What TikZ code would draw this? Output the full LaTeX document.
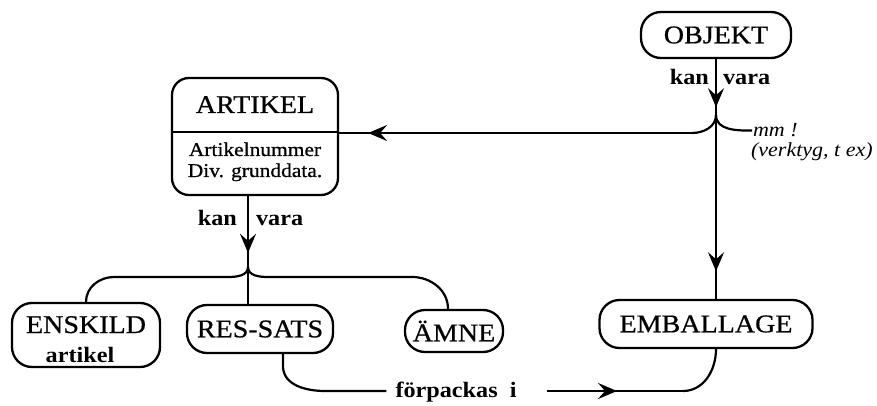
\documentclass[tikz,border=0pt]{standalone}
\usepackage{fontspec}
\setmainfont{Liberation Serif}[FakeStretch=1.1]
\newfontfamily\boxfont{Liberation Serif}[FakeStretch=1.1, FakeBold=0.7]
\usetikzlibrary{arrows.meta,decorations.markings,calc}
\begin{document}
\begin{tikzpicture}[x=1pt,y=-1pt,
  line width=2.2pt,
  box/.style={draw, line width=2.3pt, rounded corners=20pt, inner sep=0pt, font=\boxfont\fontsize{25.5}{28}\selectfont},
  boxtext/.style={inner sep=0pt, font=\boxfont\fontsize{25.5}{28}\selectfont},
  bodytext/.style={inner sep=0pt, font=\boxfont\fontsize{19.5}{21}\selectfont},
  lbl/.style={inner sep=0pt, font=\bfseries\fontsize{22}{24}\selectfont},
  note/.style={inner sep=0pt, font=\itshape\fontsize{20}{22}\selectfont},
  midarrow/.style={postaction={decorate},decoration={markings,mark=at position #1 with {\arrow{Stealth[length=19pt,width=16pt,inset=7pt]}}}}
]
\useasboundingbox[fill=white] (0,0) rectangle (877,406);

% boxes
\node[box, minimum width=150pt, minimum height=46pt] (objekt) at (716,35) {OBJEKT};
\node[box, rounded corners=17pt, minimum width=166pt, minimum height=117pt] (artikel) at (255,136.5) {};
\node[boxtext, anchor=base] (arttitle) at (255,113) {ARTIKEL};
\node[bodytext, anchor=base] (artnum) at (255,156) {Artikelnummer};
\node[bodytext, anchor=base] (artdiv) at (255,177) {Div. grunddata.};
\coordinate (dv) at (0,132);
\draw[line width=2.3pt] (artikel.west |- dv) -- (artikel.east |- dv);

\node[box, minimum width=148pt, minimum height=64pt] (enskild) at (86,335) {};
\node[boxtext, anchor=base] (enskildt) at (86,333) {ENSKILD};
\node[lbl, anchor=base] (enskilda) at (80,362) {artikel};
\node[box, minimum width=146pt, minimum height=48pt] (ressats) at (260,329) {RES-SATS};
\node[box, minimum width=98pt, minimum height=42pt] (amne) at (454,331) {ÄMNE};
\node[box, minimum width=213pt, minimum height=48pt] (emballage) at (706,324) {EMBALLAGE};

% labels
\node[lbl, anchor=base east] (kan1) at (710,85) {kan};
\node[lbl, anchor=base west] (vara1) at (722,85) {vara};
\node[lbl, anchor=base east] (kan2) at (238,225) {kan};
\node[lbl, anchor=base west] (vara2) at (255,225) {vara};
\node[note, anchor=base west] (mm) at (752,137) {mm !};
\node[note, anchor=base west] (verktyg) at (750,157) {(verktyg, t ex)};
\node[lbl, anchor=base] (forp) at (456,397) {förpackas\ \ i};

% junctions
\coordinate (j1) at (716,115);
\coordinate (j2) at (248,267);

% OBJEKT connectors
\draw[midarrow=0.86] (objekt.south -| j1) -- (j1);
\coordinate (a1) at (692,133);
\draw (j1) to[out=-90,in=0] (a1);
\draw[midarrow=0.918] (a1) -- (artikel.east |- a1);
\draw (j1) to[out=-90,in=180] (mm.west);
\draw[midarrow=0.85] (j1) -- (emballage.north -| j1);

% ARTIKEL connectors
\draw[midarrow=0.8] (artikel.south -| j2) -- (j2);
\draw (j2) to[out=-90,in=0] (228,277) -- (114,277) to[out=180,in=90] (enskild.north);
\draw (j2) to[out=-90,in=180] (268,277) -- (412,277) to[out=0,in=90] ($(amne.north)+(-6,0)$);
\draw (j2) -- (ressats.north -| j2);

% förpackas i
\coordinate (r1) at ($(ressats.south)+(23,0)$);
\coordinate (fy) at (0,391);
\draw (r1) -- ++(0,12) to[out=-90,in=180] (325,391) -- ($(forp.west |- fy)+(-8,0)$);
\coordinate (f2) at (547,391);
\coordinate (f3) at (683,391);
\draw[midarrow=0.515] (f2) -- (f3);
\draw (f3) to[out=0,in=-90] (emballage.south -| j1);
\end{tikzpicture}
\end{document}
